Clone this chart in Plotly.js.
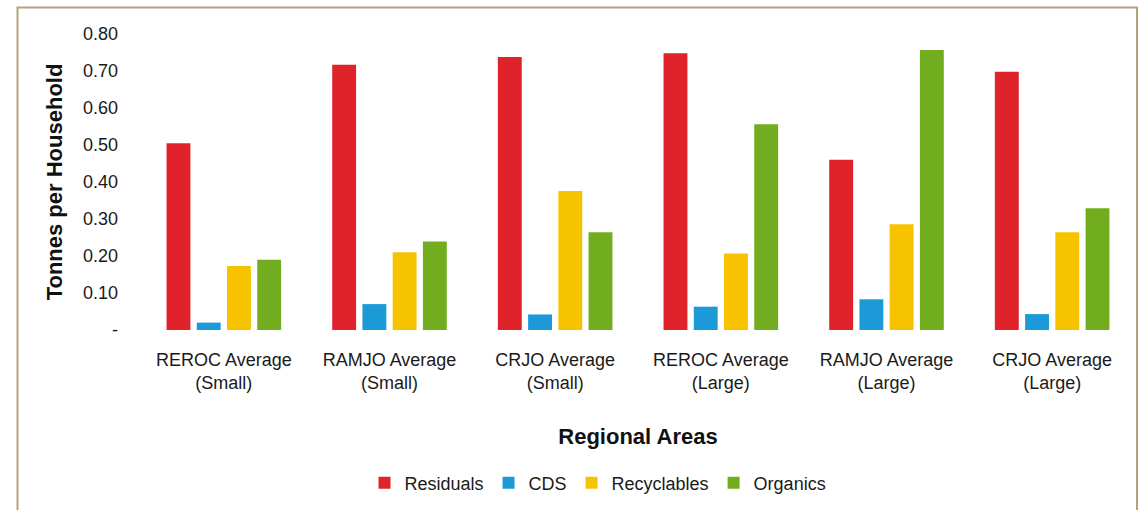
<!DOCTYPE html>
<html>
<head>
<meta charset="utf-8">
<script src="https://cdn.plot.ly/plotly-3.0.1.min.js"></script>
<style>
  html, body { margin: 0; padding: 0; background: #ffffff; }
  #chart { width: 1140px; height: 510px; }
</style>
</head>
<body>
<div id="chart"></div>
<script>
// ---- data ----
const categories = [
  "REROC Average<br>(Small)",
  "RAMJO Average<br>(Small)",
  "CRJO Average<br>(Small)",
  "REROC Average<br>(Large)",
  "RAMJO Average<br>(Large)",
  "CRJO Average<br>(Large)"
];
const residuals   = [0.505, 0.717, 0.738, 0.748, 0.460, 0.698];
const cds         = [0.020, 0.070, 0.042, 0.063, 0.083, 0.043];
const recyclables = [0.173, 0.210, 0.376, 0.207, 0.286, 0.264];
const organics    = [0.190, 0.239, 0.264, 0.556, 0.757, 0.329];
const yTickVals   = [0, 0.1, 0.2, 0.3, 0.4, 0.5, 0.6, 0.7, 0.8];
const yTickText   = ["-", "0.10", "0.20", "0.30", "0.40", "0.50", "0.60", "0.70", "0.80"];

const seriesNames  = ["Residuals", "CDS", "Recyclables", "Organics"];
const seriesValues = [residuals, cds, recyclables, organics];
const seriesColors = ["#e0222b", "#1b9ad7", "#f7c300", "#72ad1f"];

const FONT = '"Liberation Sans", Arial, Helvetica, sans-serif';
const W = 1140, H = 510;
const M = { l: 141, r: 5, t: 34, b: 180 };
const plotW = W - M.l - M.r, plotH = H - M.t - M.b;

const traces = seriesNames.map((name, i) => ({
  type: 'bar',
  name: name,
  x: categories,
  y: seriesValues[i],
  marker: { color: seriesColors[i] },
  hoverinfo: 'x+y+name'
}));

// outer frame (figure border), in paper coords relative to plot area
const px2x = p => (p - M.l) / plotW;
const px2y = p => (M.t + plotH - p) / plotH;

const layout = {
  width: W, height: H,
  margin: M,
  paper_bgcolor: '#ffffff',
  plot_bgcolor: '#ffffff',
  font: { family: FONT, size: 18, color: '#1a1a1a' },
  barmode: 'group',
  bargap: 0.27,
  bargroupgap: 0.21,
  showlegend: true,
  legend: {
    orientation: 'h',
    x: px2x(598), xanchor: 'center',
    y: px2y(483), yanchor: 'middle',
    font: { family: FONT, size: 18, color: '#1a1a1a' },
    bgcolor: 'rgba(0,0,0,0)',
    itemwidth: 30
  },
  xaxis: {
    type: 'category',
    showgrid: false, zeroline: false, showline: false,
    ticks: '',
    tickfont: { family: FONT, size: 18, color: '#1a1a1a' },
    ticklabelstandoff: 17,
    automargin: false,
    title: {
      text: 'Regional Areas',
      font: { family: FONT, size: 22, color: '#111111', weight: 'bold' },
      standoff: 36
    }
  },
  yaxis: {
    range: [0, 0.8],
    tickvals: yTickVals,
    ticktext: yTickText,
    showgrid: false, zeroline: false, showline: false,
    ticks: '',
    tickfont: { family: FONT, size: 18, color: '#1a1a1a' },
    ticklabelstandoff: 22,
    automargin: false,
    title: {
      text: 'Tonnes per Household',
      font: { family: FONT, size: 22, color: '#111111', weight: 'bold' },
      standoff: 14
    }
  },
  shapes: [{
    type: 'rect', xref: 'paper', yref: 'paper',
    x0: px2x(17.5), x1: px2x(1137),
    y0: px2y(530), y1: px2y(7.5),
    line: { color: '#b5a27c', width: 2 },
    fillcolor: 'rgba(0,0,0,0)',
    layer: 'below'
  }]
};

Plotly.newPlot('chart', traces, layout, { displayModeBar: false, staticPlot: true });
</script>
</body>
</html>
